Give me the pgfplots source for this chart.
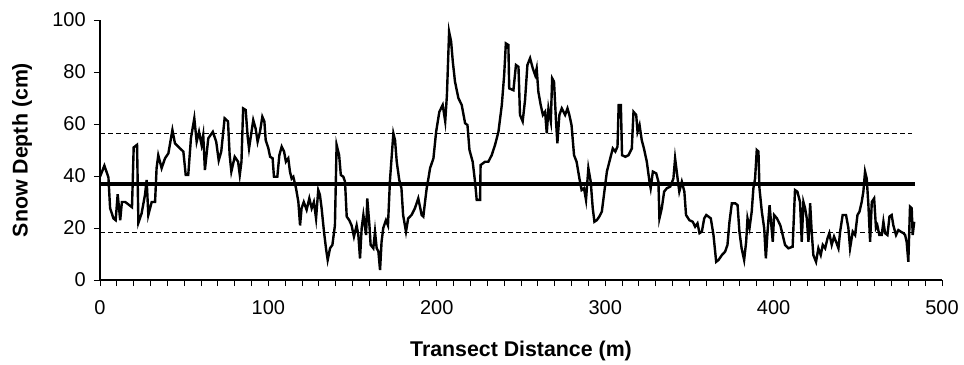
\documentclass[border=0pt]{standalone}
\usepackage{fontspec}
\setmainfont{Liberation Sans}
\usepackage{pgfplots}
\pgfplotsset{compat=1.18}

\begin{document}
\begin{tikzpicture}
\begin{axis}[
  name=ax,
  scale only axis,
  width=631.5pt, height=195pt,
  xmin=0, xmax=500, ymin=0, ymax=100,
  axis x line=bottom, axis y line=left,
  axis line style={-, line width=0.9pt, black},
  xtick={0,100,...,500},
  minor xtick={10,20,...,490},
  ytick={0,20,...,100},
  tick align=outside,
  major tick length=4.5pt, minor tick length=4.5pt,
  every tick/.style={line width=0.75pt, black},
  /pgf/number format/assume math mode=true,
  tick label style={font=\fontsize{15}{18}\selectfont, black, inner sep=0pt},
  xticklabel style={anchor=north, yshift=-11pt},
  yticklabel style={anchor=east, xshift=-6pt},
  xlabel={Transect Distance (m)},
  ylabel={Snow Depth (cm)},
  label style={font=\fontsize{16}{19}\selectfont\bfseries},
  xlabel style={at={(axis description cs:0.5,-0.2923)}, anchor=base},
  ylabel style={at={(axis description cs:-0.0926,0.5)}, anchor=center},
]
% snow depth along the transect
\addplot[black, line width=1.8pt, line join=miter] coordinates {
(0,39.7) (2.6,44) (5,39.5) (6,27.6) (8,23.7) (9.3,23) (10.5,33) (12,23) (13,30) (15,30) (17,29) (19,28) (20,51) (22,52) (22.8,22) (24.7,25.6) (26.7,32.7) (27.7,38.5) (28.7,25) (30.7,30) (32.7,30) (33.6,43) (34.6,48) (36.6,43) (38.6,46.8) (40.6,48.7) (43,57.7) (44.5,52.6) (47.5,50.6) (49.5,49.4) (50.9,40.4) (52.4,40.4) (54,54.5) (56,62.2) (57.4,53.2) (58.8,57) (60.3,52) (61.3,55.8) (62.3,42.3) (64.3,54.5) (67,57) (69,53.2) (70.5,46) (72,49.4) (74,62.2) (76,61) (77,48) (78,41.7) (80,47.4) (82,45.5) (83,40.4) (84,45.5) (85,66) (86.5,65.4) (87.7,55) (88.5,50.6) (89.7,55.8) (91,61.5) (92.4,58.3) (93.6,53.2) (95,57) (96.4,62.8) (97.6,61) (98.4,53.8) (100,50.6)
(101,47.4) (102.5,46.8) (103.3,39.7) (105.3,39.7) (106.5,48) (107.9,51.3) (109.3,49.4) (110.4,45.5) (111.8,46.8) (112.8,41.7) (113.8,39) (114.8,39.7) (116.4,35.3) (117.8,30) (118.8,21) (119.7,27.6) (121,30) (122.7,27) (124.3,31.4) (125.7,27.6) (127,30) (128.3,23.7) (129.6,34.6) (130.6,32.7) (131.6,27.6) (133,18.6) (134.2,12.2) (135.2,7.7) (136.6,12.2) (138,13.5) (139.5,21) (140.5,52) (142,48) (143,40.4) (144.5,39.7) (145.5,37.8) (146.5,24.4) (148,23) (149.4,21) (150.8,16.7) (152.4,21) (153.4,17.3) (154.4,8.3) (155.4,20) (156.4,25) (158,17.3) (158.7,31.4) (160,21) (160.7,13.5) (162.3,12.2) (163.3,18.6) (164.3,12.2) (165.3,11) (166.3,3.8) (167.2,14.7) (168.2,20) (169.8,23) (171,21) (172.2,38.5) (173.2,47.4) (174.2,56.4) (175.2,53.8) (176.2,45.5) (177.7,38.5) (179,35.3) (180,25) (181.7,18.6) (183,23.7) (185,25) (187,27.6) (189,31.4) (190,28.2) (191,25) (192,24.4) (193,30) (194,35.3) (195,39) (196,43)
(198,46.8) (199.6,57) (201.5,64.7) (203.5,67.3) (205,61) (206,71) (207.3,95.5) (208.5,91.7) (209.5,84) (210.8,76.3) (212.8,70) (214.8,67.3) (216.8,60.3) (218.2,59.6) (219.4,50) (221.3,45.5) (222.7,37.8) (223.7,30.8) (225.7,30.8) (226,44.2) (228.7,45.5) (230.6,45.5) (232.6,48) (234.6,52) (236.6,57) (238.6,67.3) (240,78.8) (241,91) (242.5,90.4) (243,73.7) (245.5,73) (247,82.7) (248.5,82) (249.4,63.5) (251,61) (252.4,69.2) (253.8,82.7) (255.4,85.3) (257,81.4) (258.4,78.8) (259.3,81.4) (260.3,72.4) (261.7,67.3) (263,63.5) (264.3,64.7) (265.3,56.4) (266.3,66) (267.7,61) (268.5,77.6) (269.6,76.3) (270.8,61) (271.6,52.6) (272.8,63.5) (274.2,66) (276.2,63.5) (277.6,66) (278.7,63.5) (280,59.6) (281.5,48) (283,45.5) (284.7,39) (286,34.6) (287.4,35.3) (288.6,30.8) (290,43) (291.4,37.8) (292.6,27.6) (293.6,22.4) (295,23) (296.5,24.4) (298,26.3)
(301,41.7) (303,46.8) (304.5,50.6) (306,49.4) (307.3,51.3) (308,67.3) (309.3,67.3) (310,48) (312,47.4) (313.8,48) (315.8,50.6) (316.8,64.7) (318.4,63.5) (319.2,57) (320.4,59.6) (321.7,53.8) (323,50.6) (324.7,45.5) (326.3,37.8) (327,35.3) (328.3,41.7) (330.3,41) (331.6,37.8) (332.2,23.7) (333.6,27.6) (335,34) (336.6,35.3) (338.6,35.9) (340.5,39) (341.5,46.8) (343,39) (344,34) (345.5,37.8) (347,34) (348,25) (350,23) (352,22.4) (353.4,20.5) (354.8,21.8) (356,18) (357.4,18.6) (358.8,23.7) (360,25) (361.3,24.4) (362.7,23.7) (364.3,17.3) (365.9,7) (367.3,7.7) (369.3,9.6) (371.2,10.9) (372.6,13.5) (373.8,22.4) (375.2,29.5) (377.2,29.5) (378.6,28.8) (379.7,18.6) (381,12.2) (382.5,7.7) (383.7,14.7) (384.5,23.7) (385.7,20) (387,26.3) (388,35.3) (389,39) (390,50) (391,49.4) (391.6,35.3) (393,26.3) (394.4,20) (395.4,8.3) (396.4,18.6) (397.6,28.8)
(399.5,14.7) (400.3,25) (402,23.7) (404,21) (405.4,17.3) (406.8,13.5) (408.8,12.2) (411.3,12.8) (412.7,34.6) (414.1,34) (415.7,30) (416.7,14.7) (417.7,30) (418.7,27.6) (419.7,23.7) (420.7,14.7) (421.7,29.5) (422.6,18.6) (423.6,9.6) (425.2,7) (426.6,12.2) (428,9.6) (429.2,13.5) (430.6,12.2) (432,16) (433.1,18) (434.5,13.5) (435.9,16.7) (437.1,14.7) (438.5,12.2) (439.5,18.6) (441,25) (443,25) (444.4,20) (445.4,12.2) (447,18.6) (448.4,17.3) (449.8,25) (451,26.3) (452.3,30) (453.3,34) (454.3,41.7) (455.3,39) (456.3,28.8) (457.3,14.7) (458.3,30) (459.7,31.4) (460.8,20) (461.6,21) (462.8,17.3) (464.2,17.3) (465.2,22.4) (466.2,18) (467.6,17.3) (468.8,24.4) (470.1,25) (471.1,21) (472.7,17.3) (474.1,19.2) (475.5,18.6) (477.1,18) (478.1,17.3) (479,14.7) (480,7) (481,28.2) (482,27.6) (482.6,17.3) (483.5,22.4)
};
% mean depth
\addplot[black, line width=3pt] coordinates {(0,37) (484,37)};
% mean plus and minus one standard deviation
\addplot[black, line width=0.75pt, dash pattern=on 3.5pt off 2.5pt] coordinates {(0,56.5) (482,56.5)};
\addplot[black, line width=0.75pt, dash pattern=on 3.5pt off 2.5pt] coordinates {(0,18.2) (482,18.2)};
\end{axis}
\path ([xshift=-75pt,yshift=-61.5pt]ax.south west) rectangle ([xshift=16.5pt,yshift=15pt]ax.north east);
\end{tikzpicture}
\end{document}
